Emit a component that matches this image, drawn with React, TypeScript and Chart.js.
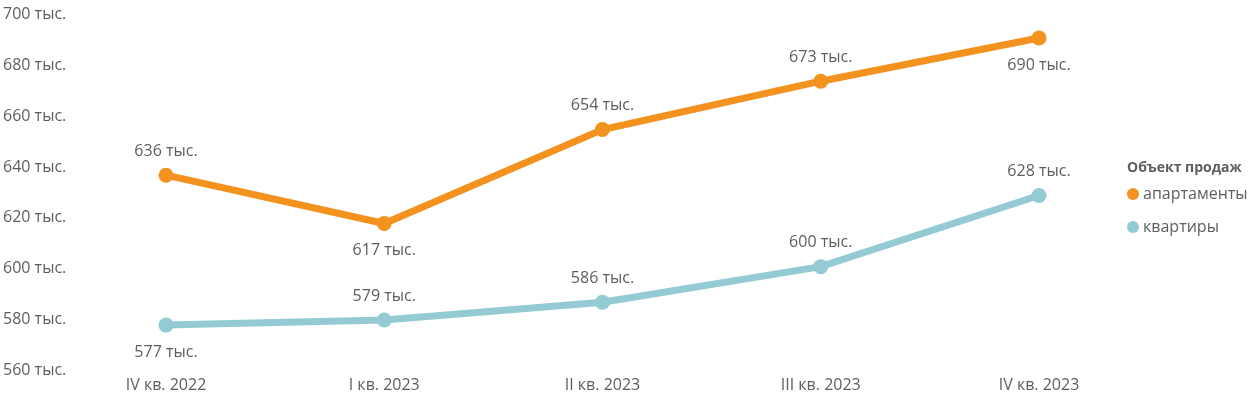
import React, { useEffect, useRef } from "react";
import { Chart, registerables } from "chart.js";

Chart.register(...registerables);

const categories = ["IV кв. 2022", "I кв. 2023", "II кв. 2023", "III кв. 2023", "IV кв. 2023"];
const apartmentsValues = [636, 617, 654, 673, 690];
const flatsValues = [577, 579, 586, 600, 628];
const apartmentsLabelSide = ["above", "below", "above", "above", "below"];
const flatsLabelSide = ["below", "above", "above", "above", "above"];
const seriesNames = ["апартаменты", "квартиры"];
const legendTitle = "Объект продаж";
const yMin = 560;
const yMax = 700;
const yStep = 20;
const unit = " тыс.";

const FONT = "'Open Sans', 'Noto Sans', sans-serif";
const TEXT = "#605E5C";
const ORANGE = "#F4921F";
const TEAL = "#93CAD3";
const FS = 16;

const labelPlugin = {
  id: "pointLabels",
  afterDatasetsDraw(chart: any) {
    const ctx = chart.ctx;
    const sides = [apartmentsLabelSide, flatsLabelSide];
    ctx.save();
    ctx.font = `${FS}px ${FONT}`;
    ctx.fillStyle = TEXT;
    ctx.textAlign = "center";
    ctx.textBaseline = "middle";
    chart.data.datasets.forEach((ds: any, i: number) => {
      const meta = chart.getDatasetMeta(i);
      meta.data.forEach((pt: any, j: number) => {
        const side = sides[i][j];
        const y = side === "above" ? pt.y - 24 : pt.y + 27;
        ctx.fillText(`${ds.data[j]}${unit}`, pt.x, y);
      });
    });
    ctx.restore();
  },
};

// Legend drawn in the space to the right of the plot, from the datasets
const legendPlugin = {
  id: "sideLegend",
  afterDraw(chart: any) {
    const ctx = chart.ctx;
    const x0 = chart.width - 126;
    const cy = chart.height / 2;
    ctx.save();
    ctx.textBaseline = "middle";
    ctx.textAlign = "left";
    ctx.fillStyle = TEXT;
    ctx.font = `bold 14px ${FONT}`;
    ctx.fillText(legendTitle, x0, cy - 30);
    ctx.font = `${FS}px ${FONT}`;
    chart.data.datasets.forEach((ds: any, i: number) => {
      const y = cy - 4.5 + i * 33;
      ctx.beginPath();
      ctx.fillStyle = ds.borderColor;
      ctx.arc(x0 + 6, y, 6, 0, Math.PI * 2);
      ctx.fill();
      ctx.fillStyle = TEXT;
      ctx.fillText(ds.label, x0 + 16, y);
    });
    ctx.restore();
  },
};

export default function App() {
  const ref = useRef<HTMLCanvasElement | null>(null);
  useEffect(() => {
    if (!ref.current) return;
    const common = {
      borderWidth: 7,
      pointRadius: 7.5,
      pointBorderWidth: 0,
      tension: 0,
      clip: false,
    };
    const chart = new Chart(ref.current, {
      type: "line",
      data: {
        labels: categories,
        datasets: [
          {
            label: seriesNames[0],
            data: apartmentsValues,
            borderColor: ORANGE,
            backgroundColor: ORANGE,
            pointBackgroundColor: ORANGE,
            pointBorderColor: ORANGE,
            ...common,
          },
          {
            label: seriesNames[1],
            data: flatsValues,
            borderColor: TEAL,
            backgroundColor: TEAL,
            pointBackgroundColor: TEAL,
            pointBorderColor: TEAL,
            ...common,
          },
        ],
      },
      options: {
        animation: false,
        responsive: true,
        maintainAspectRatio: false,
        layout: { autoPadding: false, padding: { left: 3, top: 8.5, bottom: -6.5, right: 214 } },
        plugins: {
          tooltip: { enabled: false },
          legend: { display: false },
        },
        scales: {
          x: {
            type: "category",
            offset: false,
            grid: { display: false, drawTicks: false },
            border: { display: false },
            ticks: { color: TEXT, font: { family: FONT, size: FS }, padding: 8, maxRotation: 0 },
          },
          y: {
            min: yMin,
            max: yMax,
            grid: { display: false, drawTicks: false },
            border: { display: false },
            afterFit: (s: any) => {
              s.width = 163;
            },
            ticks: {
              stepSize: yStep,
              crossAlign: "far",
              labelOffset: 2,
              color: TEXT,
              font: { family: FONT, size: FS },
              callback: (v: any) => `${v}${unit}`,
            },
          },
        },
      },
      plugins: [labelPlugin, legendPlugin],
    } as any);
    return () => chart.destroy();
  }, []);
  return (
    <div style={{ position: "fixed", left: 0, top: 0, width: 1253, height: 397 }}>
      <canvas ref={ref} />
    </div>
  );
}
